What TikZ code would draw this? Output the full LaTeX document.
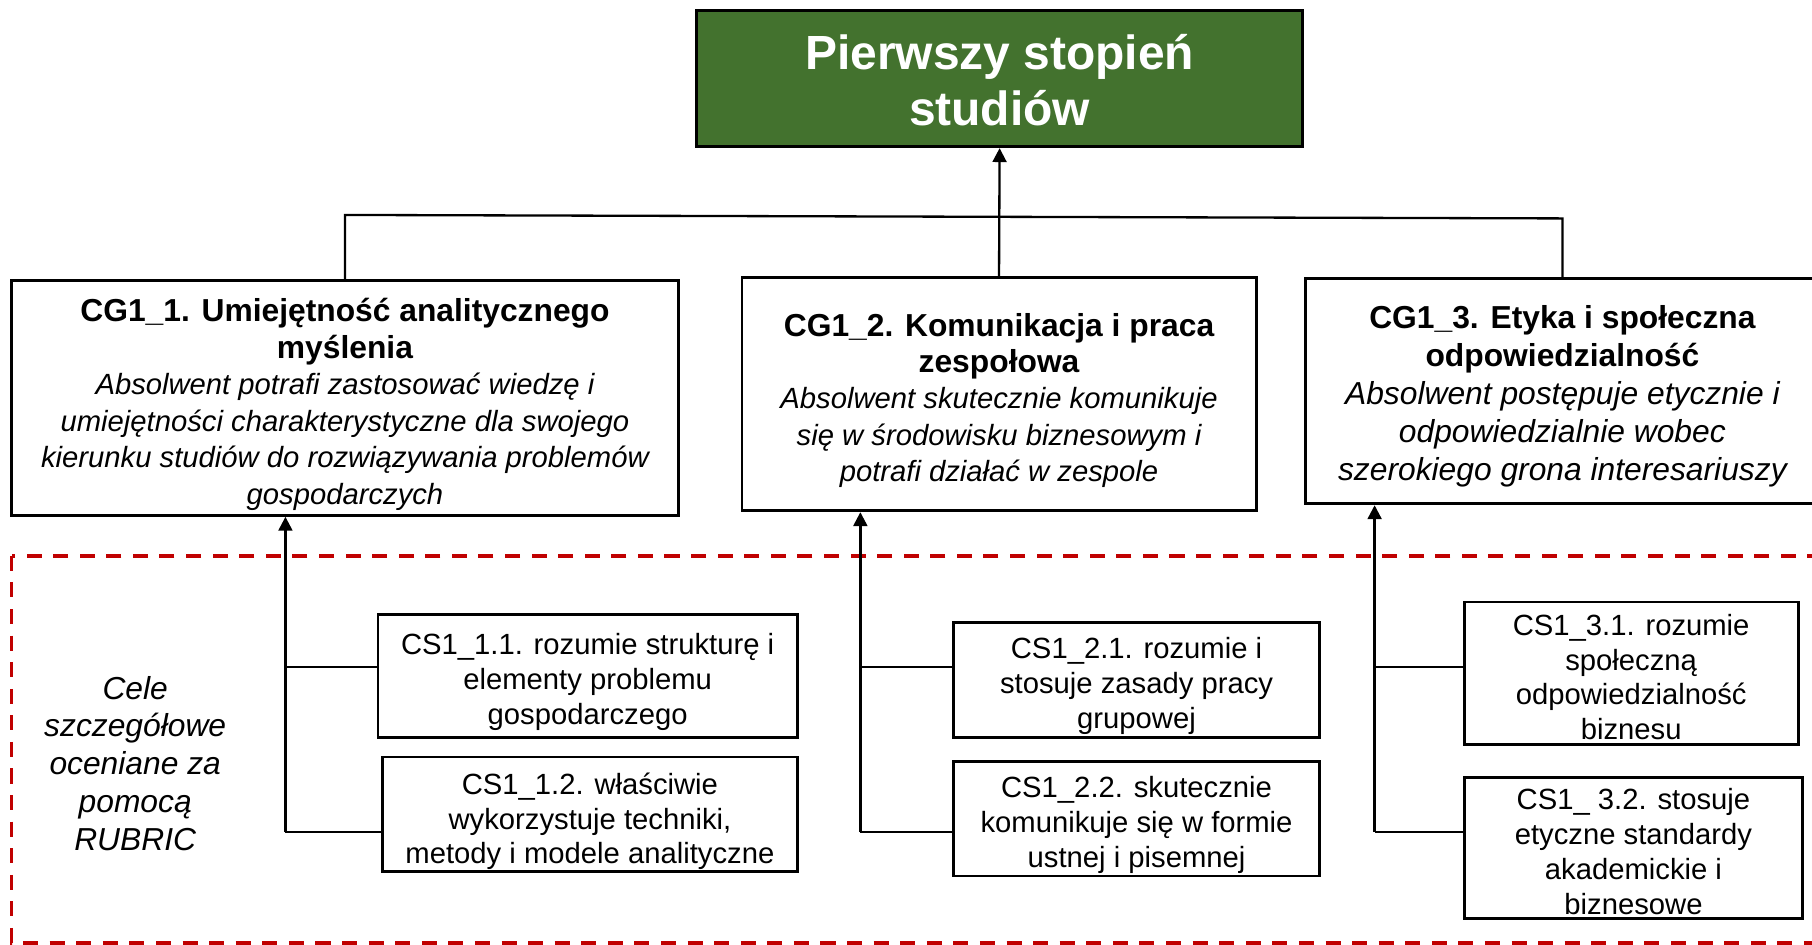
\documentclass[tikz,border=0pt]{standalone}
\usepackage{fontspec}
\setmainfont{Liberation Sans}
\usetikzlibrary{arrows.meta}
\definecolor{topgreen}{RGB}{67,114,46}
\definecolor{dashred}{RGB}{192,0,0}
\newcommand{\cgb}[1]{{\fontsize{27.5}{31.5}\selectfont\bfseries #1}}
\newcommand{\cgi}[1]{{\fontsize{25.3}{31.5}\selectfont\itshape #1}}
\newcommand{\cgbb}[1]{{\fontsize{27.5}{33}\selectfont\bfseries #1}}
\newcommand{\cgii}[1]{{\fontsize{27.5}{33}\selectfont\itshape #1}}
\newcommand{\tp}[1]{\rule{0pt}{#1pt}}
\tikzset{
  box/.style={draw=black, line width=2.4pt, rectangle, align=center, inner sep=0pt},
  topbox/.style={box, fill=topgreen, text=white, font=\fontsize{41.5}{48}\selectfont\bfseries},
  cgbox/.style={box, font=\fontsize{25.3}{31.5}\selectfont},
  csbox/.style={box, font=\fontsize{25.3}{30.2}\selectfont},
  conn/.style={draw=black, line width=2pt},
  arr/.style={conn, -{Triangle[width=12pt,length=12pt]}},
  reddash/.style={draw=dashred, line width=3pt, dash pattern=on 13pt off 10pt},
  note/.style={align=center, inner sep=0pt, font=\fontsize{27.5}{32.7}\selectfont\itshape}
}
\begin{document}
\begin{tikzpicture}[x=1pt,y=-1pt]
\useasboundingbox (0,0) rectangle (1568,817);
% dashed region
\draw[reddash] (10,481) rectangle (1620,816);
% top
\node[topbox, minimum width=524pt, minimum height=118pt] (top) at (865,68) {\tp{33.5}Pierwszy stopień\\studiów};
% goals
\node[cgbox, minimum width=577pt, minimum height=203pt] (cg1) at (298.5,344.5)
 {\tp{31}\cgb{CG1\_1. Umiejętność analitycznego}\\\cgb{myślenia}\\\cgi{Absolwent potrafi zastosować wiedzę i}\\\cgi{umiejętności charakterystyczne dla swojego}\\\cgi{kierunku studiów do rozwiązywania problemów}\\\cgi{gospodarczych}};
\node[cgbox, minimum width=445pt, minimum height=202pt] (cg2) at (864.5,341)
 {\tp{31}\cgb{CG1\_2. Komunikacja i praca}\\\cgb{zespołowa}\\\cgi{Absolwent skutecznie komunikuje}\\\cgi{się w środowisku biznesowym i}\\\cgi{potrafi działać w zespole}};
\node[cgbox, minimum width=444pt, minimum height=195pt, font=\fontsize{27.5}{33}\selectfont] (cg3) at (1352,338.5)
 {\tp{29}\cgbb{CG1\_3. Etyka i społeczna}\\\cgbb{odpowiedzialność}\\\cgii{Absolwent postępuje etycznie i}\\\cgii{odpowiedzialnie wobec}\\\cgii{szerokiego grona interesariuszy}};
% specific goals
\node[csbox, minimum width=363pt, minimum height=106pt] (cs11) at (508.5,585) {\tp{29}CS1\_1.1. rozumie strukturę i\\elementy problemu\\gospodarczego};
\node[csbox, minimum width=359pt, minimum height=99pt] (cs12) at (510.5,704.5) {\tp{31}CS1\_1.2. właściwie\\wykorzystuje techniki,\\metody i modele analityczne};
\node[csbox, minimum width=317pt, minimum height=99pt] (cs21) at (983.5,588.5) {\tp{29}CS1\_2.1. rozumie i\\stosuje zasady pracy\\grupowej};
\node[csbox, minimum width=317pt, minimum height=99pt] (cs22) at (983.5,708.5) {\tp{29}CS1\_2.2. skutecznie\\komunikuje się w formie\\ustnej i pisemnej};
\node[csbox, minimum width=289pt, minimum height=123pt] (cs31) at (1411.5,582.5) {\tp{25}CS1\_3.1. rozumie\\społeczną\\odpowiedzialność\\biznesu};
\node[csbox, minimum width=293pt, minimum height=122pt] (cs32) at (1413.5,734) {\tp{24}CS1\_ 3.2. stosuje\\etyczne standardy\\akademickie i\\biznesowe};
% note
\node[note] (cele) at (117,660.5) {Cele\\szczegółowe\\oceniane za\\pomocą\\RUBRIC};
% top connectors
\coordinate (hl) at (298.5,186);
\coordinate (hr) at (1352,189);
\draw[conn] (cg1.north) -- (hl) -- (hr) -- (cg3.north);
\draw[arr] (cg2.north) -- (top.south);
% bottom connectors
\coordinate (b1) at (247,720);
\coordinate (b2) at (744.5,720);
\coordinate (b3) at (1189.5,720);
\coordinate (j11) at (247,577);
\coordinate (j21) at (744.5,577);
\coordinate (j31) at (1189.5,577);
\draw[arr] (b1) -- (b1 |- cg1.south);
\draw[arr] (b2) -- (b2 |- cg2.south);
\draw[arr] (b3) -- (b3 |- cg3.south);
\draw[conn] (j11) -- (j11 -| cs11.west);
\draw[conn] (b1) -- (b1 -| cs12.west);
\draw[conn] (j21) -- (j21 -| cs21.west);
\draw[conn] (b2) -- (b2 -| cs22.west);
\draw[conn] (j31) -- (j31 -| cs31.west);
\draw[conn] (b3) -- (b3 -| cs32.west);
\end{tikzpicture}
\end{document}
